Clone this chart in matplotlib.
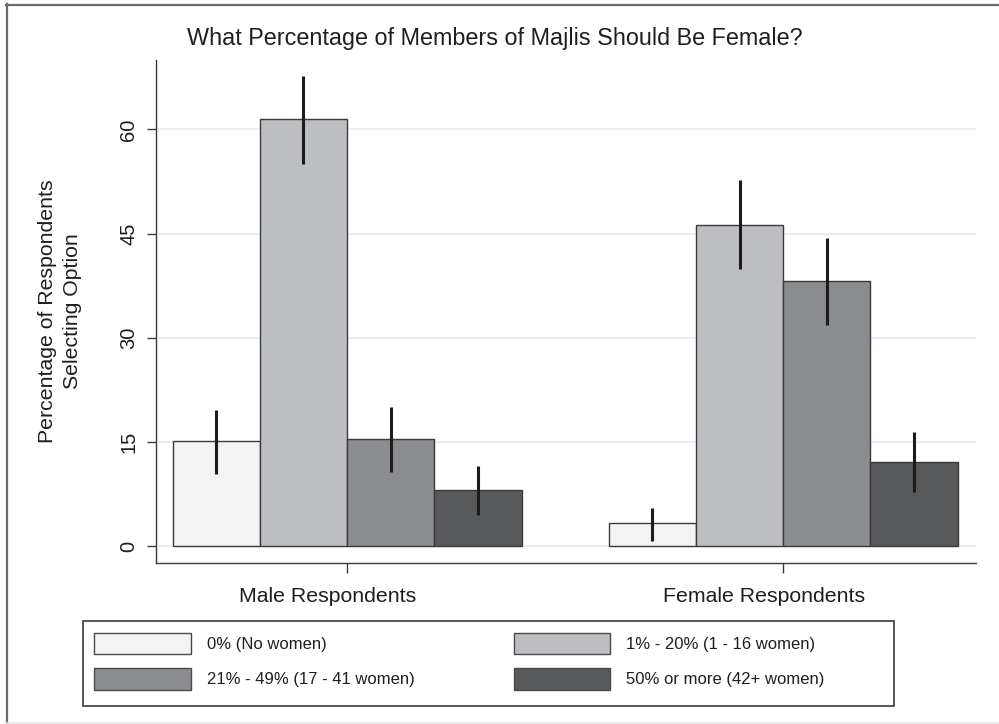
import matplotlib
matplotlib.use("Agg")
import matplotlib.pyplot as plt
import matplotlib.transforms as mtrans
from matplotlib.lines import Line2D
from matplotlib.patches import Patch, Rectangle
import numpy as np

plt.rcParams['font.family'] = ['Liberation Sans', 'DejaVu Sans']

groups = ['Male Respondents', 'Female Respondents']
options = ['0% (No women)', '1% - 20% (1 - 16 women)',
           '21% - 49% (17 - 41 women)', '50% or more (42+ women)']
colors = ['#f2f3f2', '#bdbec2', '#8b8c90', '#58595b']

# percentages, one list per option: [male, female]
pct = [[15.1, 3.3], [61.5, 46.3], [15.4, 38.2], [8.1, 12.2]]
ci_lo = [[10.4, 0.8], [55.0, 39.9], [10.7, 31.8], [4.5, 7.8]]
ci_hi = [[19.6, 5.5], [67.7, 52.7], [20.1, 44.4], [11.6, 16.4]]

W, H = 999, 724
fig = plt.figure(figsize=(W / 100, H / 100), dpi=100)
ax = fig.add_axes([156 / W, 1 - 563 / H, (976 - 156) / W, (563 - 60) / H])

centers = np.array([0, 5])
for i in range(len(options)):
    xs = centers + i - 1.5
    v = np.array(pct[i])
    ax.bar(xs, v, width=1.0, color=colors[i], edgecolor='#3a3a3a',
           linewidth=1.0, zorder=2)
    err = [v - np.array(ci_lo[i]), np.array(ci_hi[i]) - v]
    ax.errorbar(xs, v, yerr=err, fmt='none', ecolor='#1c1c1c',
                elinewidth=2.2, capsize=0, zorder=3)

ax.set_xlim(-2.19, 7.21)
ax.set_ylim(-2.4, 70)
ax.set_yticks([0, 15, 30, 45, 60])
ax.yaxis.grid(True, color='#e6f0f2', linewidth=1.6, zorder=0)
ax.set_axisbelow(True)

for s in ['top', 'right']:
    ax.spines[s].set_visible(False)
for s in ['left', 'bottom']:
    ax.spines[s].set_color('#3a3a3a')
    ax.spines[s].set_linewidth(1.0)

ax.tick_params(axis='y', length=6.5, width=1, color='#3a3a3a', pad=13,
               labelsize=14.5, labelcolor='#1e1e1e')
for lab in ax.get_yticklabels():
    lab.set_rotation(90)
    lab.set_va('center')
    lab.set_ha('center')

ax.set_xticks(centers)
ax.set_xticklabels(groups)
ax.tick_params(axis='x', length=7, width=1, color='#3a3a3a', pad=10.5,
               labelsize=15.3, labelcolor='#1e1e1e')
shift = mtrans.ScaledTranslation(-19 / 100, 0, fig.dpi_scale_trans)
for lab in ax.get_xticklabels():
    lab.set_transform(lab.get_transform() + shift)

fig.text(60 / W, 1 - 311.5 / H, 'Percentage of Respondents\nSelecting Option',
         rotation=90, ha='center', va='center', fontsize=15.3,
         color='#1e1e1e', linespacing=1.45, multialignment='center')

fig.text(495 / W, 1 - 38 / H,
         'What Percentage of Members of Majlis Should Be Female?',
         ha='center', va='center', fontsize=16.8, color='#1e1e1e')

# legend, filled row by row (matplotlib fills columns, so reorder)
fig.add_artist(Rectangle((82.7 / W, 1 - 705.7 / H), 811.3 / W, 84.7 / H,
                         transform=fig.transFigure, facecolor='white',
                         edgecolor='#3a3a3a', linewidth=1.2))
handles = [Patch(facecolor=c, edgecolor='#4a4a4a', linewidth=1.0) for c in colors]
order = [0, 2, 1, 3]
leg = fig.legend([handles[k] for k in order], [options[k] for k in order],
                 ncol=2, loc='upper left',
                 bbox_to_anchor=(94.3 / W, 1 - 632.7 / H),
                 frameon=False, fontsize=12, borderpad=0, borderaxespad=0,
                 handlelength=5.8, handleheight=1.6, handletextpad=0.94,
                 columnspacing=5.95, labelspacing=0.85, labelcolor='#1e1e1e')

# outer frame of the graph region
fig.add_artist(Line2D([7 / W, 7 / W], [0, 1 - 4 / H], transform=fig.transFigure,
                      color='#6b6b6b', linewidth=1.6))
fig.add_artist(Line2D([6.2 / W, 1], [1 - 4.5 / H, 1 - 4.5 / H],
                      transform=fig.transFigure, color='#6b6b6b', linewidth=1.6))
fig.add_artist(Line2D([7 / W, 1], [1 - 722.5 / H, 1 - 722.5 / H],
                      transform=fig.transFigure, color='#e6e6e6', linewidth=1.2))

fig.savefig('out.png', dpi=100)
